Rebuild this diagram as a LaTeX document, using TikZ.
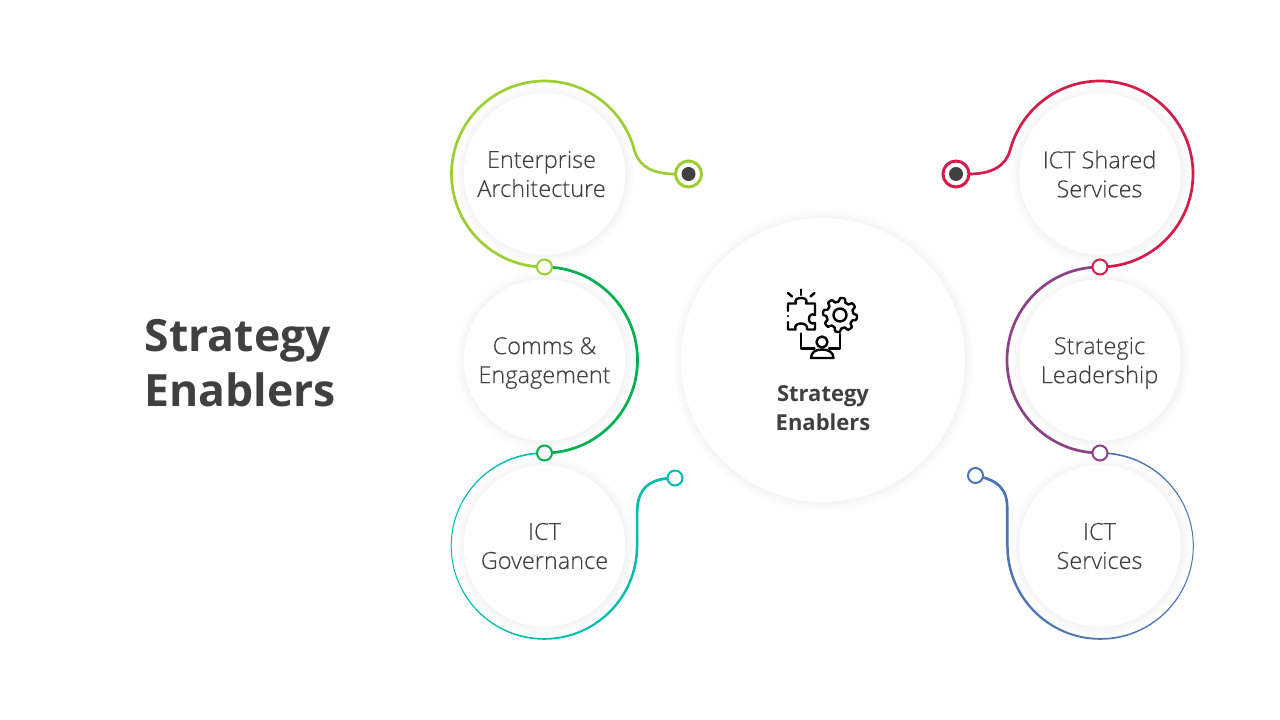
\documentclass[tikz,border=0pt]{standalone}
\usepackage{fontspec}
\setmainfont{Open Sans}[UprightFont=* Light,BoldFont=* Bold]
\newfontfamily\itemfont{Open Sans Light}[FakeBold=0.25]
\definecolor{txt}{HTML}{404040}
\definecolor{cLime}{HTML}{9BCF34}
\definecolor{cGreen}{HTML}{00AF50}
\definecolor{cTeal}{HTML}{00BBB0}
\definecolor{cRed}{HTML}{D41C4B}
\definecolor{cPurple}{HTML}{8C4285}
\definecolor{cBlue}{HTML}{4A76B8}
\newcommand{\softshadow}[3]{%
  \foreach \i in {0,...,11}{\fill[black,opacity=.0042] (#1+0.5,#2-0.5) circle ({#3+\i*0.8});}}
\tikzset{
  x=1pt,y=1pt,
  item/.style={circle,fill=white,minimum size=161.5pt,inner sep=0pt},
  itemtext/.style={align=center,text=txt,inner sep=0pt,font=\itemfont\fontsize{23.5}{29}\selectfont},
  hub/.style={circle,fill=white,minimum size=284pt,inner sep=0pt},
  ringbig/.style={circle,draw,fill=white,line width=3pt,minimum size=26pt,inner sep=0pt},
  ringsmall/.style={circle,draw,fill=white,line width=2pt,minimum size=15pt,inner sep=0pt},
  dot/.style={circle,fill=txt,minimum size=14pt,inner sep=0pt},
  wire/.style={line width=2.7pt,line cap=round},
  ico/.style={black,line width=2.4pt,line cap=round,line join=round}
}
\begin{document}
\begin{tikzpicture}
\useasboundingbox (0,0) rectangle (1280,720);
\fill[white] (0,0) rectangle (1280,720);
% shadows
\softshadow{544.5}{546}{81}
\softshadow{544.5}{360}{81}
\softshadow{544.5}{174}{81}
\softshadow{1100}{546}{81}
\softshadow{1100}{360}{81}
\softshadow{1100}{174}{81}
\softshadow{823}{360}{142}
% circles
\node[item] (ea) at (544.5,546) {};
\node[item] (ce) at (544.5,360) {};
\node[item] (ig) at (544.5,174) {};
\node[item] (ss) at (1100,546) {};
\node[item] (sl) at (1100,360) {};
\node[item] (is) at (1100,174) {};
\node[hub] (hub) at (823,360) {};
\node[itemtext] (eat) at (541.5,546) {Enterprise\\Architecture};
\node[itemtext] (cet) at (544.5,357) {Comms \&\\Engagement};
\node[itemtext] (igt) at (544.5,174) {ICT\\Governance};
\node[itemtext] (sst) at (1099.5,546) {ICT Shared\\Services};
\node[itemtext] (slt) at (1099.5,357) {Strategic\\Leadership};
\node[itemtext] (ist) at (1099.5,174) {ICT\\Services};
\node[align=center,text=txt,font=\fontsize{22}{29}\selectfont\bfseries] (hubtext) at (823,312) {Strategy\\Enablers};
\node[align=left,anchor=west,text=txt,font=\fontsize{44.5}{55}\selectfont\bfseries,inner sep=0pt] (title) at (144.5,357) {Strategy\\Enablers};
% end points
\coordinate (j1) at (544.5,453);
\coordinate (j2) at (544.5,267);
\coordinate (j3) at (1100,453);
\coordinate (j4) at (1100,267);
\coordinate (limeEnd) at (675,546);
\coordinate (redEnd) at (969,546);
% lime
\draw[wire,cLime] (j1) arc[start angle=270,delta angle=-255,radius=93]
  .. controls +(5,-18) and +(-20,0) .. (limeEnd);
% dark green
\draw[wire,cGreen] (j1) arc[start angle=90,delta angle=-180,radius=93];
% teal: thin on the left, thick on the right
\fill[cTeal] ([shift={(90:93.8)}]ig.center) arc[start angle=90,delta angle=270,radius=93.8]
  -- ([shift={(91.3,0)}]ig.center) arc[start angle=0,delta angle=-270,radius=92.05] -- cycle;
\draw[wire,cTeal] (637.1,174) -- (637.1,207) .. controls (637.1,232) and (650,242) .. (675,242);
% red
\draw[wire,cRed] (j3) arc[start angle=270,delta angle=255,radius=93]
  .. controls +(-5,-18) and +(20,0) .. (redEnd);
% purple
\draw[wire,cPurple] (j3) arc[start angle=90,delta angle=180,radius=93];
% blue: thin on the right, thick on the left
\fill[cBlue] ([shift={(90:93.8)}]is.center) arc[start angle=90,delta angle=-270,radius=93.8]
  -- ([shift={(-91.3,0)}]is.center) arc[start angle=180,delta angle=270,radius=92.05] -- cycle;
\draw[wire,cBlue] (1007.2,174) -- (1007.2,212) .. controls (1007.2,232) and (997,240) .. (975.5,244.5);
% rings
\node[ringsmall,draw=cLime] (r1) at (j1) {};
\node[ringsmall,draw=cGreen] (r2) at (j2) {};
\node[ringsmall,draw=cRed] (r3) at (j3) {};
\node[ringsmall,draw=cPurple] (r4) at (j4) {};
\node[ringsmall,draw=cTeal] (r5) at (675,242) {};
\node[ringsmall,draw=cBlue] (r6) at (975.5,244.5) {};
\node[ringbig,draw=cLime] (r7) at (688.5,546) {};
\node[ringbig,draw=cRed] (r8) at (956,546) {};
\node[dot] (d7) at (r7) {};
\node[dot] (d8) at (r8) {};
% icon
\begin{scope}[shift={(0,720)},yscale=-1]
 \draw[ico] (801,289.5) -- (801,295);
 \draw[ico] (788,293) -- (792,296.5);
 \draw[ico] (814.5,293) -- (810.5,296.5);
 % puzzle piece
 \draw[ico] (788,311) -- (788,303.5) -- (796,303.5) .. controls (794,299) and (798,298) .. (801,298)
   .. controls (804,298) and (808,299) .. (806,303.5) -- (815,303.5) -- (815,315)
   .. controls (811,313) and (809,316) .. (809,319) .. controls (809,322) and (811,324.5) .. (815,323)
   -- (815,329.5) -- (807,329.5) .. controls (808,325) and (804,323.5) .. (801,323.5)
   .. controls (798,323.5) and (794,325) .. (795.5,329.5) -- (788,329.5) -- (788,322);
 \draw[ico] (788,316) -- (788,316.2);
 % gear
 \draw[ico] plot[samples=97,domain=0:360,smooth] ({840+(15.2+1.9*tanh(3*sin(8*\x+20)))*cos(\x)},{315+(15.2+1.9*tanh(3*sin(8*\x+20)))*sin(\x)}) -- cycle;
 \draw[ico] (840,315) circle (6.5);
 % person and links
 \draw[ico] (801,333.5) -- (801,348.5) -- (814.5,348.5);
 \draw[ico] (840,334) -- (840,348.5) -- (829,348.5);
 \draw[ico] (822,342) circle (5.5);
 \draw[ico] (811,358) .. controls (811,352) and (816,349.5) .. (822,349.5)
   .. controls (828,349.5) and (833.5,352) .. (833.5,358) -- cycle;
\end{scope}
\end{tikzpicture}
\end{document}
